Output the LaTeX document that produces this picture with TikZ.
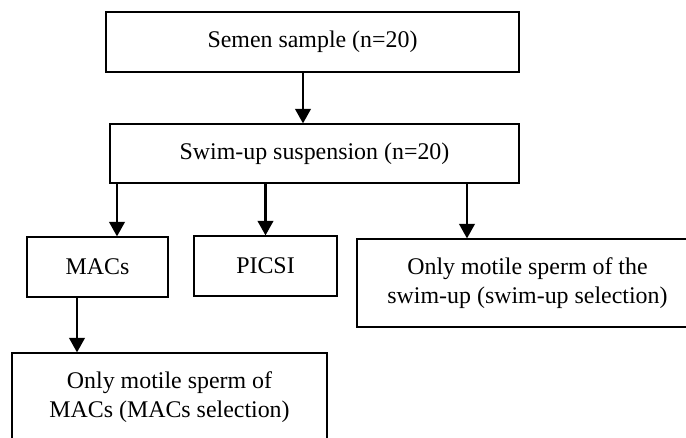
\documentclass[tikz,border=0pt]{standalone}
\usepackage{fontspec}
\setmainfont{Liberation Serif}
\usetikzlibrary{arrows.meta}
\begin{document}
\begin{tikzpicture}[x=1pt, y=-1pt, >={Triangle[width=15.5pt,length=14.5pt]},
  box/.style={draw, line width=1.2pt, inner sep=0pt, align=center, font=\fontsize{23.9}{28.5}\selectfont},
  arr/.style={->, line width=2.3pt}]
  \useasboundingbox (0,0) rectangle (686,437);
  \clip (0,0) rectangle (686,437);
  \node[box, minimum width=413pt, minimum height=60pt] (semen) at (312.5,42){Semen sample (n=20)};
  \node[box, minimum width=409pt, minimum height=59pt] (swim) at (314.5,153.5){Swim-up suspension (n=20)};
  \node[box, minimum width=141pt, minimum height=60pt] (macs) at (97.5,267){MACs};
  \node[box, minimum width=143pt, minimum height=60pt] (picsi) at (265.5,266){PICSI};
  \node[box, minimum width=341pt, minimum height=88pt] (swimsel) at (527.5,283){Only motile sperm of the\\swim-up (swim-up selection)};
  \node[box, minimum width=315pt, minimum height=88pt] (macssel) at (169.5,397){Only motile sperm of\\MACs (MACs selection)};
  \draw[arr] ([xshift=-9.5pt]semen.south) -- ([xshift=-9.5pt]semen.south |- swim.north);
  \draw[arr] ([xshift=19.5pt]macs.north |- swim.south) -- ([xshift=19.5pt]macs.north);
  \draw[arr] (picsi.north |- swim.south) -- (picsi.north);
  \draw[arr] ([xshift=-60.5pt]swimsel.north |- swim.south) -- ([xshift=-60.5pt]swimsel.north);
  \draw[arr] ([xshift=-20.5pt]macs.south) -- ([xshift=-20.5pt]macs.south |- macssel.north);
\end{tikzpicture}
\end{document}
